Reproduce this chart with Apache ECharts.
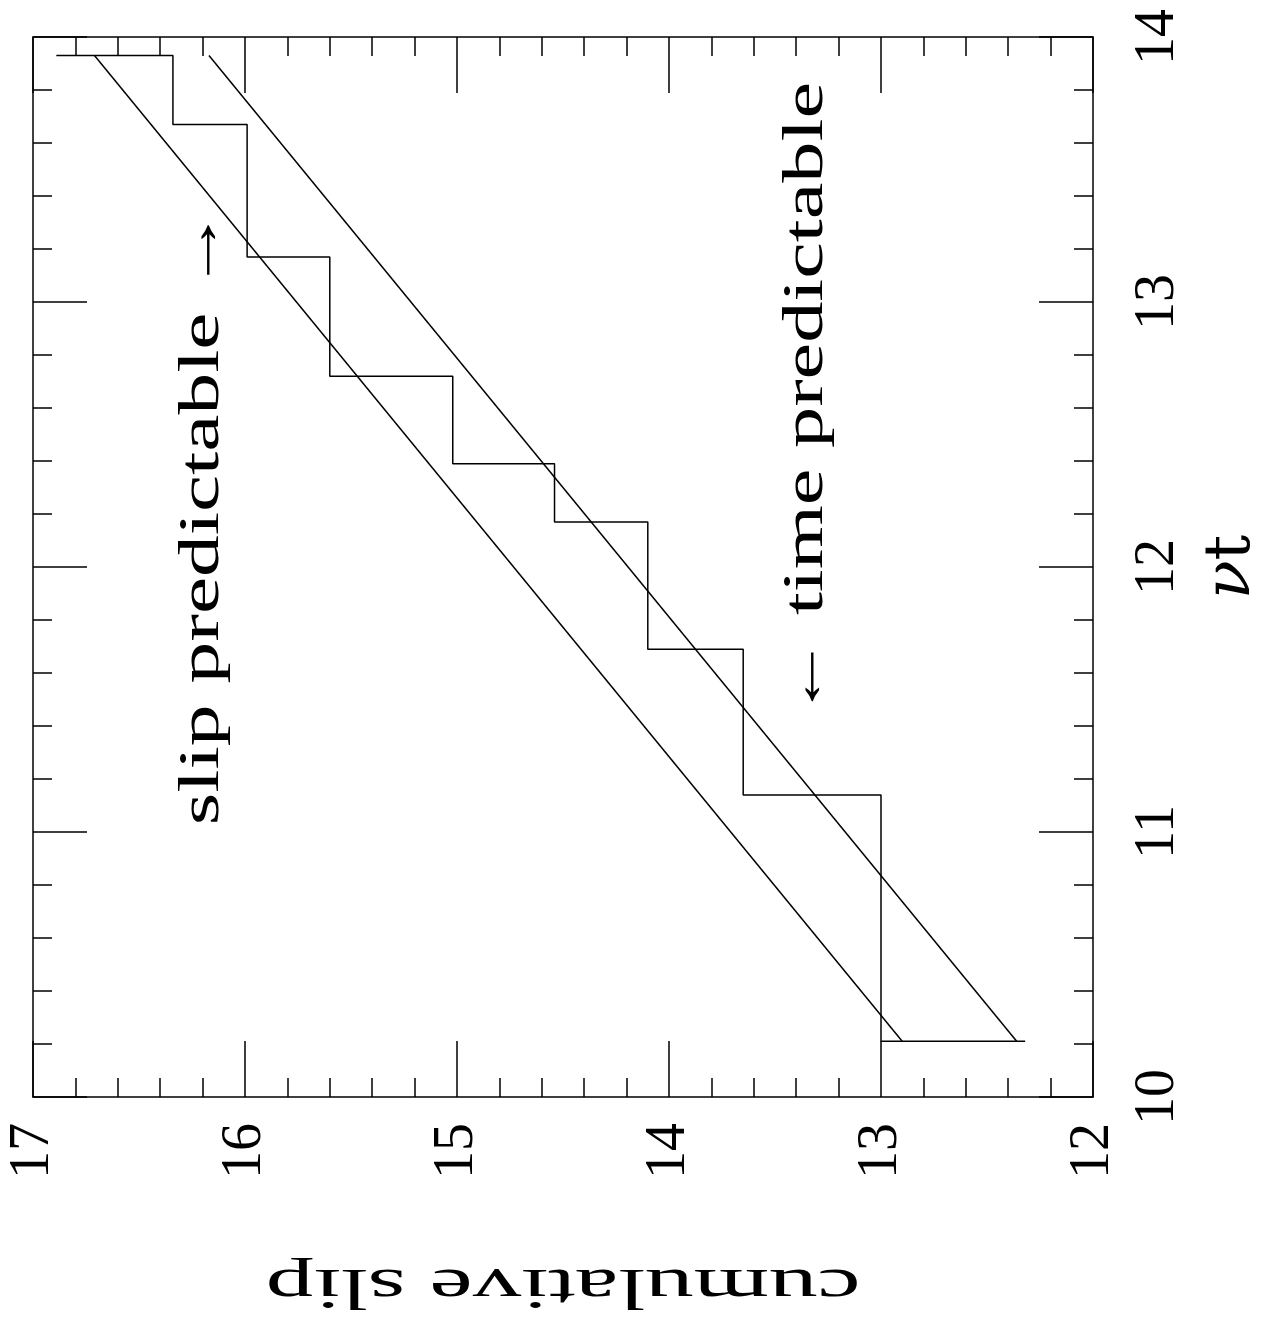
<!DOCTYPE html>
<html>
<head>
<meta charset="utf-8">
<script src="https://cdn.jsdelivr.net/npm/echarts@6/dist/echarts.min.js"></script>
<style>
  html, body { margin: 0; padding: 0; background: #fff; }
  #chart { width: 1276px; height: 1326px; }
</style>
</head>
<body>
<div id="chart"></div>
<script>
// ---- data ----
// slip level held between successive events (cumulative slip)
const slipLevels = [12.32, 13.00, 13.65, 14.10, 14.54, 15.02, 15.60, 15.99, 16.34, 16.89];
// times (nu*t) at which each slip event occurs
const eventTimes = [10.21, 11.14, 11.69, 12.17, 12.39, 12.72, 13.17, 13.67, 13.93];
// "slip predictable" reference line
const slipPredSlip = [12.90, 16.71];
const slipPredTime = [10.21, 13.93];
// "time predictable" reference line
const timePredSlip = [12.36, 16.17];
const timePredTime = [10.21, 13.93];
// tick labels
const slipTickLabels = ['12', '13', '14', '15', '16', '17'];
const timeTickLabels = ['10', '11', '12', '13', '14'];

// ---- build series data ----
const stairData = [];
for (let i = 0; i < eventTimes.length; i++) {
  stairData.push([slipLevels[i], eventTimes[i]]);
  stairData.push([slipLevels[i + 1], eventTimes[i]]);
}
const slipPredData = slipPredSlip.map((s, i) => [s, slipPredTime[i]]);
const timePredData = timePredSlip.map((s, i) => [s, timePredTime[i]]);

const ink = '#000';
const tickFont = 'Liberation Serif';
const lineW = 1.5;

function slipAxis(pos, showLabel) {
  return {
    type: 'value', position: pos, min: 12, max: 17, interval: 1, inverse: true,
    axisLine: { show: true, onZero: false, lineStyle: { color: ink, width: lineW } },
    axisTick: { show: true, inside: true, length: 56, lineStyle: { color: ink, width: lineW } },
    minorTick: { show: true, splitNumber: 5, length: 19, lineStyle: { color: ink, width: lineW } },
    splitLine: { show: false }, minorSplitLine: { show: false },
    axisLabel: {
      show: showLabel, rotate: 90, margin: 26, color: ink,
      fontFamily: tickFont, fontSize: 56,
      formatter: v => slipTickLabels[Math.round(v) - 12]
    }
  };
}
function timeAxis(pos, showLabel) {
  return {
    type: 'value', position: pos, min: 10, max: 14, interval: 1,
    axisLine: { show: true, onZero: false, lineStyle: { color: ink, width: lineW } },
    axisTick: { show: true, inside: true, length: 54, lineStyle: { color: ink, width: lineW } },
    minorTick: { show: true, splitNumber: 5, length: 19, lineStyle: { color: ink, width: lineW } },
    splitLine: { show: false }, minorSplitLine: { show: false },
    axisLabel: {
      show: showLabel, rotate: 90, margin: 37, color: ink,
      fontFamily: tickFont, fontSize: 56,
      formatter: v => timeTickLabels[Math.round(v) - 10]
    },
    name: showLabel ? '{nu|ν}t' : '',
    nameLocation: 'middle', nameRotate: 90, nameGap: 107,
    nameTextStyle: {
      fontFamily: 'DejaVu Serif', fontSize: 64, color: ink,
      rich: { nu: { fontFamily: 'DejaVu Serif', fontSize: 64, fontStyle: 'italic', color: ink } }
    }
  };
}

const chart = echarts.init(document.getElementById('chart'), null, { renderer: 'canvas' });
chart.setOption({
  animation: false,
  backgroundColor: '#fff',
  grid: { left: 33, top: 37, width: 1060, height: 1060, containLabel: false, outerBoundsMode: 'none' },
  xAxis: [slipAxis('bottom', true), slipAxis('top', false)],
  yAxis: [timeAxis('right', true), timeAxis('left', false)],
  series: [
    { name: 'cumulative slip', type: 'line', data: stairData, symbol: 'none',
      lineStyle: { color: ink, width: lineW }, xAxisIndex: 0, yAxisIndex: 0 },
    { name: 'slip predictable', type: 'line', data: slipPredData, symbol: 'none',
      lineStyle: { color: ink, width: lineW }, xAxisIndex: 0, yAxisIndex: 0 },
    { name: 'time predictable', type: 'line', data: timePredData, symbol: 'none',
      lineStyle: { color: ink, width: lineW }, xAxisIndex: 0, yAxisIndex: 0 }
  ]
});

// ---- text: annotations anchored in data coordinates, slip-axis title below the axis ----
const annFont = 'Liberation Serif';
const annSize = 58;
const texts = [
  { text: 'slip predictable →', slip: 16.20, t: 12.19, span: 617, rot: Math.PI / 2, dy: 0 },
  { text: '← time predictable', slip: 13.35, t: 12.63, span: 636, rot: Math.PI / 2, dy: 0 },
  // x-axis title (reference shows it upside down, centred under the slip axis)
  { text: 'cumulative slip', slip: 14.5, t: 10, span: 595, rot: Math.PI, dy: 188 }
];
const mctx = document.createElement('canvas').getContext('2d');
mctx.font = annSize + 'px "' + annFont + '"';
const graphics = texts.map(a => {
  const p = chart.convertToPixel({ xAxisIndex: 0, yAxisIndex: 0 }, [a.slip, a.t]);
  const w = mctx.measureText(a.text).width || 1;
  return {
    type: 'text', x: p[0], y: p[1] + a.dy, rotation: a.rot, scaleX: a.span / w,
    style: { text: a.text, fontFamily: annFont, fontSize: annSize, fill: ink,
             align: 'center', verticalAlign: 'middle' }
  };
});
chart.setOption({ graphic: graphics });
</script>
</body>
</html>
